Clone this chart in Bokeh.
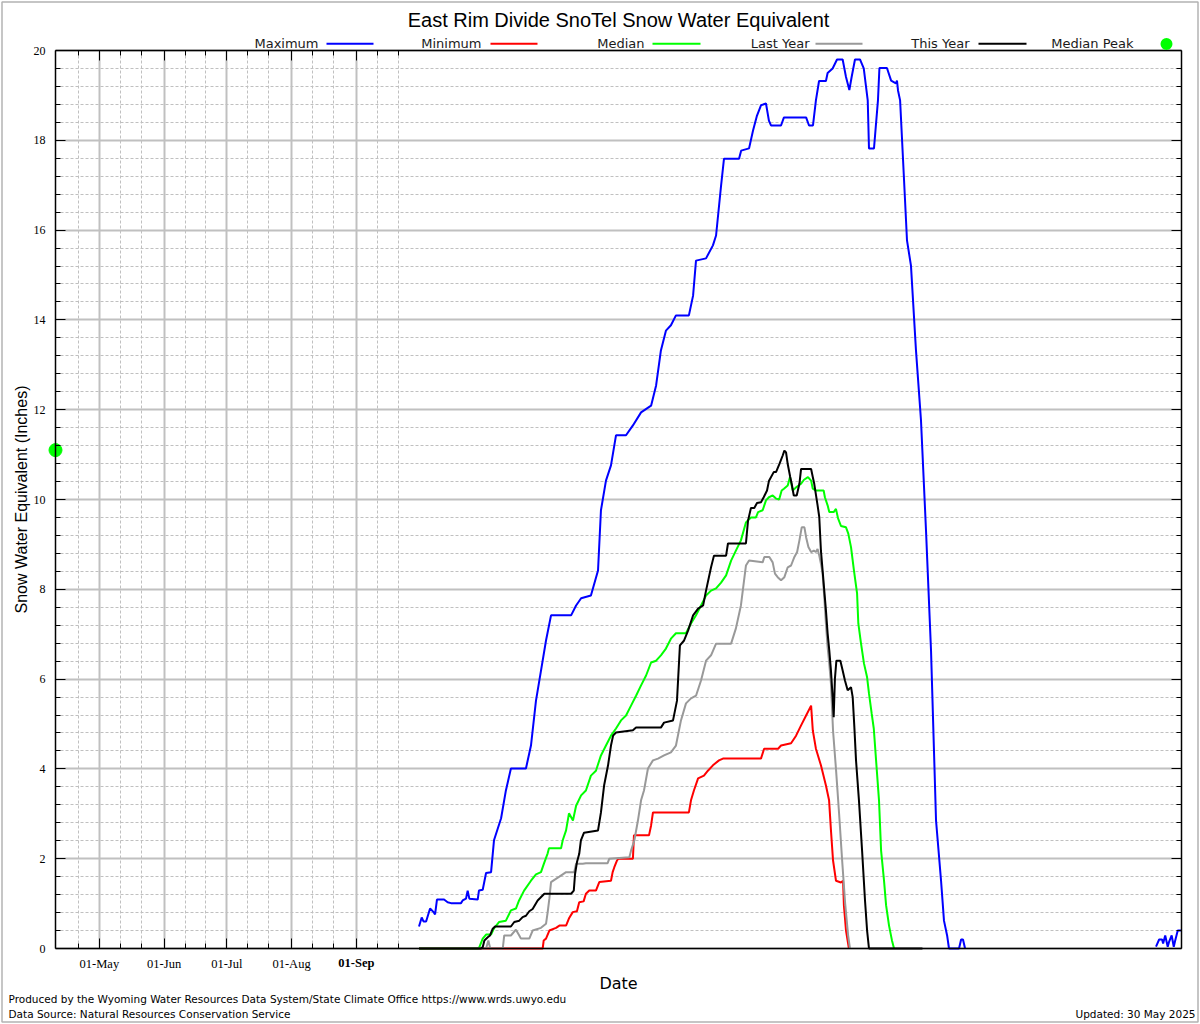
import math
from bokeh.plotting import figure
from bokeh.models import (Range1d, FixedTicker, LinearAxis, Label, BoxAnnotation, Grid,
                          CustomJSTickFormatter)
from bokeh.embed import file_html
from bokeh.resources import INLINE

nan = float("nan")

# ---------------- data: day = days since 1 October, swe = inches ----------------
max_day = [0, 1.3, 2.2, 3.4, 5.3, 7.0, 7.7, 8.6, 12.0, 13.7, 15.3, 20.1, 20.9, 22.5, 23.3, 24.1,
           28.1, 28.7, 30.5, 32.1, 34.5, 35.9, 39.3, 41.6, 44.0, 51.2, 53.6, 56.0, 58.4, 60.8,
           63.2, 72.8, 75.2, 77.6, 82.3, 85.7, 87.1, 89.5, 91.9, 94.3, 99.1, 102.4, 106.3,
           111.1, 113.5, 115.8, 118.2, 120.6, 123.0, 129.2, 131.2, 132.6, 137.4, 140.7, 142.2,
           144.6, 146.0, 153.2, 154.2, 158.0, 159.9, 161.8, 163.7, 166.1, 167.5, 168.5, 173.3,
           174.7, 185.3, 186.7, 188.6, 190.0, 191.5, 194.8, 195.6, 198.0, 200.1, 202.8, 204.4,
           206.0, 207.1, 208.7, 211.1, 212.9, 214.8, 215.4, 217.8, 219.7, 220.4, 224.0, 226.0,
           228.3, 228.8, 229.3, 230.3, 232.2, 233.6, 235.5, 237.9, 240.3, 242.7, 245.1, 247.5,
           249.9, 251.3, 252.8, 253.7, 258.5, 259.5, 260.4, 261.4, nan, 352.8, 354.3, 355.7,
           356.2, 357.2, 358.4, 359.0, 360.3, 361.3, 361.9, 363.2, 364.8]
max_swe = [0.49, 0.69, 0.60, 0.60, 0.89, 0.81, 0.76, 1.09, 1.09, 1.03, 1.01, 1.01, 1.07, 1.11,
           1.29, 1.11, 1.09, 1.29, 1.31, 1.68, 1.70, 2.41, 2.90, 3.52, 4.01, 4.01, 4.52, 5.52,
           6.19, 6.86, 7.42, 7.42, 7.64, 7.80, 7.86, 8.42, 9.76, 10.42, 10.76, 11.43, 11.43,
           11.65, 11.94, 12.09, 12.54, 13.32, 13.76, 13.88, 14.10, 14.10, 14.54, 15.32, 15.37,
           15.66, 15.88, 16.99, 17.59, 17.59, 17.77, 17.82, 18.22, 18.55, 18.78, 18.82, 18.44,
           18.33, 18.33, 18.51, 18.51, 18.33, 18.33, 18.89, 19.32, 19.32, 19.50, 19.60, 19.80,
           19.80, 19.41, 19.12, 19.41, 19.80, 19.80, 19.60, 18.89, 17.82, 17.82, 18.89, 19.61,
           19.61, 19.33, 19.27, 19.33, 19.11, 18.89, 17.10, 15.77, 15.21, 13.32, 11.76, 9.31,
           6.64, 2.85, 1.51, 0.62, 0.29, 0, 0, 0.2, 0.2, 0, nan, 0.04, 0.20, 0.20, 0.11, 0.29,
           0.04, 0.14, 0.29, 0.04, 0.16, 0.40, 0.40]

min_day = [0, 59.2, 59.7, 60.8, 62.4, 65.6, 67.2, 70.4, 71.9, 73.6, 75.6, 76.7, 78.8, 79.9, 81.5,
           84.7, 86.3, 91.9, 92.7, 93.5, 94.8, 95.4, 102.4, 102.9, 110.1, 111.1, 112.0, 129.2,
           130.2, 131.6, 133.6, 136.4, 138.3, 140.7, 143.6, 145.5, 163.7, 165.2, 171.9, 173.3,
           178.1, 180.5, 182.9, 185.3, 187.7, 188.5, 190.0, 192.4, 194.8, 196.3, 197.2, 198.2,
           199.6, 202.0, 203.0, 203.4, 204.4, 205.8]
min_swe = [0, 0, 0.18, 0.22, 0.40, 0.46, 0.51, 0.51, 0.68, 0.81, 0.83, 1.03, 1.05, 1.22, 1.29,
           1.29, 1.48, 1.51, 1.70, 1.81, 1.96, 2.00, 2.00, 2.52, 2.52, 2.74, 3.03, 3.03, 3.30,
           3.52, 3.79, 3.85, 3.96, 4.08, 4.19, 4.23, 4.23, 4.45, 4.45, 4.52, 4.57, 4.74, 4.97,
           5.19, 5.41, 4.86, 4.45, 4.08, 3.63, 3.30, 2.63, 1.96, 1.51, 1.47, 1.51, 0.96, 0.40, 0]

med_day = [0, 28.2, 28.9, 30.5, 32.1, 34.5, 35.9, 38.3, 41.6, 44.0, 46.4, 47.9, 50.3, 53.6, 56.0,
           58.4, 59.8, 61.6, 62.2, 68.0, 68.8, 70.4, 71.8, 73.7, 75.2, 77.6, 79.9, 82.3, 84.7,
           87.1, 89.5, 91.9, 94.3, 96.7, 99.1, 101.5, 103.9, 106.3, 108.7, 111.1, 113.5, 115.8,
           118.2, 120.6, 123.0, 127.8, 130.2, 132.6, 135.0, 137.4, 139.8, 142.2, 144.6, 147.0,
           149.4, 151.7, 154.1, 156.5, 158.9, 161.3, 162.3, 164.5, 166.1, 167.5, 169.3, 170.9,
           172.4, 173.6, 174.7, 176.5, 177.6, 178.9, 180.5, 182.9, 184.3, 186.2, 187.7, 188.5,
           190.0, 193.7, 194.3, 195.6, 196.4, 198.5, 199.6, 200.6, 202.0, 204.4, 205.5, 206.8,
           208.2, 209.7, 210.3, 211.6, 213.0, 214.5, 215.4, 216.7, 217.7, 218.8, 220.2, 221.2,
           222.6, 223.6, 225.0, 226.4, 227.4]
med_swe = [0, 0, 0.03, 0.22, 0.31, 0.31, 0.45, 0.59, 0.62, 0.85, 0.89, 1.07, 1.29, 1.51, 1.65,
           1.70, 1.89, 2.12, 2.23, 2.23, 2.41, 2.63, 3.01, 2.85, 3.18, 3.41, 3.52, 3.85, 3.96,
           4.30, 4.52, 4.74, 4.90, 5.08, 5.19, 5.41, 5.63, 5.86, 6.08, 6.37, 6.41, 6.53, 6.68,
           6.90, 7.02, 7.02, 7.24, 7.42, 7.64, 7.86, 7.97, 8.02, 8.15, 8.31, 8.64, 8.86, 9.09,
           9.49, 9.60, 9.60, 9.72, 9.76, 9.98, 10.05, 10.09, 10.02, 10.00, 10.20, 10.24, 10.31,
           10.50, 10.20, 10.27, 10.35, 10.44, 10.50, 10.42, 10.24, 10.20, 10.20, 10.05, 9.87,
           9.72, 9.72, 9.79, 9.58, 9.41, 9.38, 9.24, 8.94, 8.42, 7.91, 7.24, 6.79, 6.35, 6.04,
           5.68, 5.23, 4.90, 4.19, 3.30, 2.18, 1.51, 0.96, 0.51, 0.18, 0]

last_day = [0, 32.1, 33.2, 34.1, 40.1, 40.8, 44.0, 46.4, 48.0, 48.8, 52.8, 54.4, 58.4, 60.8, 61.6,
            62.4, 63.2, 64.8, 67.2, 70.4, 74.3, 75.2, 78.4, 79.9, 90.3, 91.1, 100.7, 101.5, 103.1,
            104.8, 106.3, 107.7, 109.6, 112.0, 114.4, 117.3, 120.6, 123.0, 125.4, 127.8, 130.2,
            132.6, 135.0, 137.4, 139.8, 142.2, 149.4, 151.7, 154.1, 156.5, 158.0, 164.5, 165.3,
            167.7, 169.3, 170.4, 171.7, 173.3, 174.9, 176.5, 178.1, 179.7, 181.0, 182.1, 183.2,
            184.5, 185.3, 186.4, 187.7, 189.0, 190.0, 190.8, 191.6, 192.4, 193.2, 194.0, 194.8,
            195.6, 196.4, 197.2, 198.2, 199.6, 201.1, 202.5, 204.0, 205.4, 206.3]
last_swe = [0, 0, 0.18, 0, 0, 0.29, 0.29, 0.42, 0.29, 0.22, 0.22, 0.40, 0.46, 0.55, 0.81, 1.11,
            1.48, 1.53, 1.60, 1.70, 1.70, 1.89, 1.89, 1.90, 1.90, 2.00, 2.03, 2.18, 2.41, 2.85,
            3.30, 3.52, 4.01, 4.19, 4.23, 4.30, 4.37, 4.52, 5.08, 5.46, 5.57, 5.63, 5.97, 6.41,
            6.53, 6.79, 6.79, 7.13, 7.64, 8.53, 8.64, 8.60, 8.72, 8.72, 8.60, 8.35, 8.27, 8.20,
            8.27, 8.49, 8.53, 8.72, 8.83, 9.09, 9.38, 9.38, 9.16, 8.94, 8.83, 8.86, 8.83, 8.90,
            8.75, 8.57, 8.35, 7.82, 7.23, 6.71, 6.34, 5.90, 4.85, 4.00, 3.00, 2.00, 1.00, 0.30, 0]

this_day = [0, 29.7, 30.5, 31.3, 32.9, 34.0, 35.3, 36.4, 44.0, 45.6, 48.0, 49.6, 51.2, 52.8, 54.4,
            56.8, 58.1, 60.0, 72.8, 74.1, 74.7, 75.6, 76.7, 77.5, 79.0, 85.7, 87.1, 88.6, 90.5,
            91.9, 92.9, 94.3, 102.4, 103.9, 115.8, 117.3, 121.6, 123.5, 124.9, 126.9, 128.8,
            131.2, 133.6, 136.0, 137.4, 139.8, 141.2, 147.0, 147.9, 156.5, 157.5, 158.9, 160.5,
            161.8, 163.7, 165.0, 166.6, 167.5, 169.8, 170.9, 172.5, 174.1, 174.9, 175.7, 176.5,
            177.7, 178.4, 179.4, 180.8, 182.1, 182.9, 187.7, 188.5, 189.2, 190.8, 191.6, 192.4,
            193.2, 194.0, 194.8, 195.6, 196.4, 197.2, 198.0, 198.5, 199.1, 199.8, 201.7, 202.8,
            203.9, 205.2, 206.8, 207.6, 208.4, 209.2, 210.6, 212.1, 213.5, 214.5, 215.4, 241.0]
this_swe = [0, 0, 0.03, 0.18, 0.25, 0.29, 0.44, 0.49, 0.49, 0.59, 0.62, 0.70, 0.73, 0.83, 0.88,
            1.07, 1.13, 1.22, 1.22, 1.29, 1.66, 1.92, 2.11, 2.41, 2.58, 2.63, 3.03, 3.63, 4.08,
            4.52, 4.74, 4.81, 4.86, 4.92, 4.92, 5.03, 5.08, 5.52, 6.75, 6.86, 7.08, 7.42, 7.57,
            7.64, 7.97, 8.49, 8.75, 8.75, 9.02, 9.02, 9.53, 9.81, 9.81, 9.92, 9.94, 10.05, 10.20,
            10.41, 10.61, 10.61, 10.79, 10.98, 11.09, 11.05, 10.79, 10.50, 10.35, 10.09, 10.09,
            10.35, 10.68, 10.68, 10.50, 10.35, 9.87, 9.61, 8.86, 8.42, 7.97, 7.53, 7.02, 6.64,
            6.19, 5.60, 5.15, 6.01, 6.41, 6.41, 6.19, 5.97, 5.75, 5.82, 5.60, 4.93, 4.19, 3.30,
            2.18, 1.07, 0.40, 0, 0]

median_peak_swe = 11.1

# axis ticks (days relative to 1 October)
month_days = [-153, -122, -92, -61, -30]
month_labels = ["01-May", "01-Jun", "01-Jul", "01-Aug", "01-Sep"]
minor_days = [-163, -143, -133, -112, -102, -82, -72, -51, -41, -20, -10]
y_major = list(range(0, 21, 2))
y_minor = [round(i * 0.4, 1) for i in range(51) if i % 5]

series = [
    ("Maximum", max_day, max_swe, "#0000ff"),
    ("Minimum", min_day, min_swe, "#ff0000"),
    ("Median", med_day, med_swe, "#00ff00"),
    ("Last Year", last_day, last_swe, "#999999"),
    ("This Year", this_day, this_swe, "#000000"),
]
for _, d, s, _c in series:
    assert len(d) == len(s)

# ---------------- geometry ----------------
# The data area spans X0..X1 days and 0..20 inches; it occupies pixels 55..1181 x 50..948.
# The bokeh frame is widened to the whole canvas so that texts outside the data area show.
X0, X1 = -174, 365
W, H = 1200, 1024
L, R, T, B = 55, 19, 50, 76
KX = (X1 - X0) / (W - L - R)         # days per pixel
KY = 20 / (H - T - B)                # inches per pixel
XL, XR = X0 - L * KX, X1 + R * KX
YB, YT = -B * KY, 20 + T * KY


def dx(page_x):
    return XL + page_x * KX


def dy(page_y):
    return YT - page_y * KY


p = figure(width=W, height=H, x_range=Range1d(XL, XR), y_range=Range1d(YB, YT),
           output_backend="svg", toolbar_location=None,
           x_axis_location=None, y_axis_location=None, min_border=0,
           min_border_left=0, min_border_right=0, min_border_top=0, min_border_bottom=0)
p.background_fill_color = "white"
p.border_fill_color = "white"
p.outline_line_color = None
p.grid.visible = False

xt = FixedTicker(ticks=month_days, minor_ticks=minor_days)
yt = FixedTicker(ticks=y_major, minor_ticks=y_minor)
blank = CustomJSTickFormatter(code="return ''")
axis_text = [lab if lab != "01-Sep" else "" for lab in month_labels]
xfmt = CustomJSTickFormatter(args=dict(days=month_days, labels=axis_text),
                             code="const i = days.indexOf(tick); return i >= 0 ? labels[i] : '';")

# ---- grid lines limited to the data area ----
GRID = "#c0c0c0"
if "cross_bounds" in Grid.properties():
    p.add_layout(Grid(dimension=0, ticker=xt, cross_bounds=(0, 20), grid_line_color=GRID,
                      grid_line_width=2, minor_grid_line_color=GRID, minor_grid_line_width=1,
                      minor_grid_line_dash="3 2"))
    p.add_layout(Grid(dimension=1, ticker=yt, cross_bounds=(X0, X1), grid_line_color=GRID,
                      grid_line_width=2, minor_grid_line_color=GRID, minor_grid_line_width=1,
                      minor_grid_line_dash="3 2"))
else:
    p.segment(x0=minor_days, x1=minor_days, y0=0, y1=20, line_color=GRID, line_width=1,
              line_dash="3 2", level="underlay")
    p.segment(x0=X0, x1=X1, y0=y_minor, y1=y_minor, line_color=GRID, line_width=1,
              line_dash="3 2", level="underlay")
    p.segment(x0=month_days, x1=month_days, y0=0, y1=20, line_color=GRID, line_width=2,
              level="underlay")
    p.segment(x0=X0, x1=X1, y0=y_major, y1=y_major, line_color=GRID, line_width=2,
              level="underlay")

# ---- axes pinned to the data-area edges ----
bottom = LinearAxis(ticker=xt, formatter=xfmt, fixed_location=0, bounds=(X0, X1))
top = LinearAxis(ticker=xt, formatter=blank, fixed_location=20, bounds=(X0, X1))
left = LinearAxis(ticker=yt, fixed_location=X0, bounds=(0, 20))
right = LinearAxis(ticker=yt, formatter=blank, fixed_location=X1, bounds=(0, 20))
p.add_layout(bottom, "below")
p.add_layout(top, "above")
p.add_layout(left, "left")
p.add_layout(right, "right")

for ax in (bottom, top, left, right):
    ax.major_tick_in = 10
    ax.major_tick_out = 0
    ax.minor_tick_in = 5
    ax.minor_tick_out = 0
    ax.major_tick_line_color = "black"
    ax.minor_tick_line_color = "black"
    ax.axis_line_color = "black"
    ax.axis_line_width = 1.5
for ax in (top, right):
    ax.major_label_standoff = 0

bottom.major_label_text_font = "Liberation Serif"
bottom.major_label_text_font_size = "12.5px"
bottom.major_label_text_color = "black"
bottom.major_label_standoff = 8
bottom.axis_label = "Date"
bottom.axis_label_text_font = "DejaVu Sans"
bottom.axis_label_text_font_size = "16px"
bottom.axis_label_text_font_style = "normal"
bottom.axis_label_text_color = "black"
bottom.axis_label_standoff = 0

left.major_label_text_font = "Liberation Serif"
left.major_label_text_font_size = "12px"
left.major_label_text_color = "black"
left.major_label_standoff = 10
left.axis_label = "Snow Water Equivalent (Inches)"
left.axis_label_text_font = "Liberation Sans"
left.axis_label_text_font_size = "16px"
left.axis_label_text_font_style = "normal"
left.axis_label_text_color = "black"
left.axis_label_standoff = 1

# ---- data lines ----
for name, d, s, c in series:
    p.line(d, s, line_color=c, line_width=2)

# median peak marker, drawn on the left axis
p.scatter(x=[X0], y=[median_peak_swe], size=13, fill_color="#00ff00", line_color="#00ff00")

# bold September tick label
p.add_layout(Label(x=month_days[-1], y=dy(962.5), text="01-Sep", text_font="Liberation Serif",
                   text_font_size="12.5px", text_align="center", text_baseline="alphabetic",
                   text_font_style="bold", text_color="black"))

# title
p.add_layout(Label(x=dx(618), y=dy(19.5), text="East Rim Divide SnoTel Snow Water Equivalent",
                   text_font="Liberation Sans", text_font_size="20px", text_align="center",
                   text_baseline="alphabetic", text_color="black"))

# legend
LEG_Y = 43
leg = [(318, 326, 373), (481, 490, 537), (644, 652, 700), (809, 815, 862), (969, 978, 1026)]
for (name, d, s, c), (tx, l0, l1) in zip(series, leg):
    p.add_layout(Label(x=dx(tx), y=dy(LEG_Y), text=name, text_font="DejaVu Sans",
                       text_font_size="13px", text_align="right",
                       text_baseline="alphabetic", text_color="#1a1a1a"))
    p.add_layout(BoxAnnotation(left=dx(l0), right=dx(l1), top=dy(42.3), bottom=dy(44.3),
                               fill_color=c, fill_alpha=1, line_alpha=0))
p.add_layout(Label(x=dx(1133), y=dy(LEG_Y), text="Median Peak", text_font="DejaVu Sans",
                   text_font_size="13px", text_align="right",
                   text_baseline="alphabetic", text_color="#1a1a1a"))
p.add_layout(BoxAnnotation(left=dx(1160), right=dx(1172), top=dy(37.5), bottom=dy(49.5),
                           fill_color="#00ff00", fill_alpha=1, line_alpha=0, border_radius=6))

# footer
p.add_layout(Label(x=dx(8), y=dy(998),
                   text="Produced by the Wyoming Water Resources Data System/State Climate Office https://www.wrds.uwyo.edu",
                   text_font="DejaVu Sans", text_font_size="10.5px", text_align="left",
                   text_baseline="alphabetic", text_color="black"))
p.add_layout(Label(x=dx(8), y=dy(1013), text="Data Source: Natural Resources Conservation Service",
                   text_font="DejaVu Sans", text_font_size="10.5px", text_align="left",
                   text_baseline="alphabetic", text_color="black"))
p.add_layout(Label(x=dx(1195), y=dy(1013), text="Updated: 30 May 2025",
                   text_font="DejaVu Sans", text_font_size="10.5px", text_align="right",
                   text_baseline="alphabetic", text_color="black"))

# outer border of the picture
p.add_layout(BoxAnnotation(left=dx(1.5), right=dx(1197.5), top=dy(1.5), bottom=dy(1021.5),
                           fill_alpha=0, line_color="black", line_width=1.5))

open("out.html", "w").write(file_html(p, INLINE))
